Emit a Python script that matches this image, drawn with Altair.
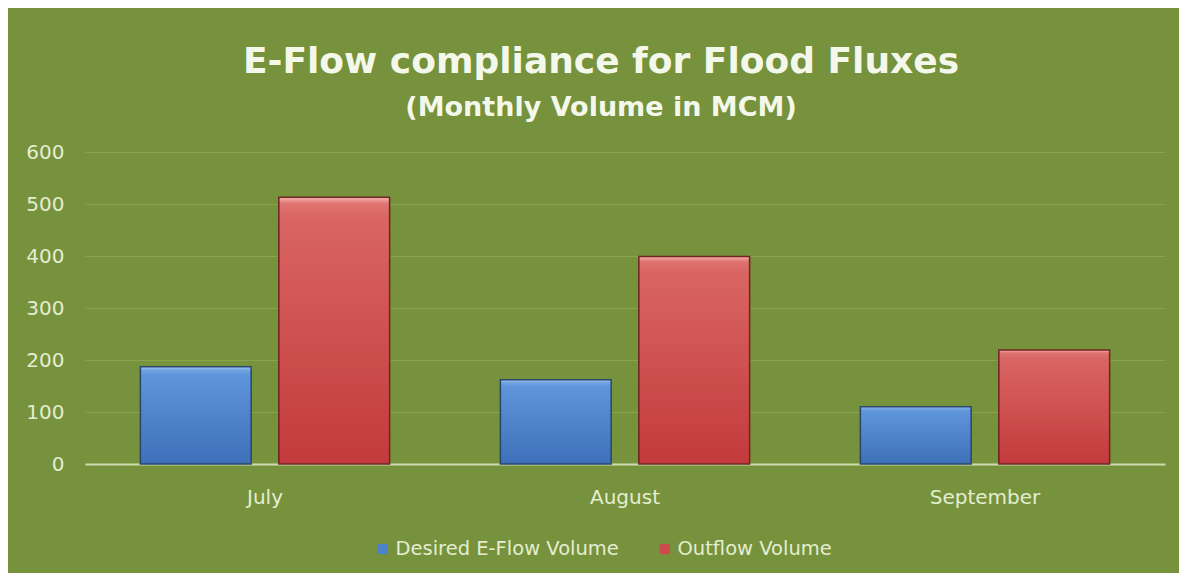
import altair as alt
import pandas as pd

months = ["July", "August", "September"]
series_names = ["Desired E-Flow Volume", "Outflow Volume"]
desired = [187, 162, 110]
outflow = [513, 399, 219]

rows = []
for m, d, o in zip(months, desired, outflow):
    rows.append({"month": m, "series": series_names[0], "value": d})
    rows.append({"month": m, "series": series_names[1], "value": o})
df = pd.DataFrame(rows)

BG = "#76923c"
TXT = "#e4edd2"

x_enc = alt.X("month:N", sort=months, title=None,
              scale=alt.Scale(paddingInner=0, paddingOuter=0),
              axis=alt.Axis(labelAngle=0, labelFont="DejaVu Sans", labelFontSize=20,
                            labelColor=TXT, labelPadding=23, ticks=False,
                            domainColor="#cfdcb0", domainWidth=2, grid=False))
xo_enc = alt.XOffset("series:N", sort=series_names,
                     scale=alt.Scale(paddingInner=0.2, paddingOuter=0.4))
y_enc = alt.Y("value:Q", title=None,
              scale=alt.Scale(domain=[0, 600], nice=False),
              axis=alt.Axis(values=[0, 100, 200, 300, 400, 500, 600],
                            labelFont="DejaVu Sans", labelFontSize=20, labelColor=TXT,
                            labelPadding=21, ticks=False, domain=False,
                            grid=True, gridColor="#88a44e", gridWidth=1))

base = alt.Chart(df).encode(x=x_enc, xOffset=xo_enc, y=y_enc)

legend_layer = base.mark_bar().encode(
    color=alt.Color("series:N", sort=series_names, title=None,
                    scale=alt.Scale(domain=series_names, range=["#4a82cc", "#cc4a4a"]),
                    legend=alt.Legend(orient="none", direction="horizontal",
                                      legendX=288, legendY=387, padding=0,
                                      symbolType="square", symbolSize=100,
                                      symbolStrokeWidth=0, labelLimit=500,
                                      labelFont="DejaVu Sans", labelFontSize=19.5,
                                      labelColor=TXT, labelOffset=3,
                                      columnPadding=36))
)

blue_grad = alt.Gradient(gradient="linear", x1=0, x2=0, y1=0, y2=1, stops=[
    alt.GradientStop(offset=0, color="#bcd8f6"),
    alt.GradientStop(offset=0.025, color="#78a8e4"),
    alt.GradientStop(offset=0.08, color="#5f95db"),
    alt.GradientStop(offset=1, color="#3d70b8"),
])
red_grad = alt.Gradient(gradient="linear", x1=0, x2=0, y1=0, y2=1, stops=[
    alt.GradientStop(offset=0, color="#f6b2ae"),
    alt.GradientStop(offset=0.025, color="#de7370"),
    alt.GradientStop(offset=0.08, color="#d96562"),
    alt.GradientStop(offset=1, color="#c33a3c"),
])

blue_layer = base.mark_bar(fill=blue_grad, stroke="#27476f", strokeWidth=1.5).transform_filter(
    alt.datum.series == series_names[0])
red_layer = base.mark_bar(fill=red_grad, stroke="#6e2420", strokeWidth=1.5).transform_filter(
    alt.datum.series == series_names[1])

chart = alt.layer(legend_layer, blue_layer, red_layer).properties(
    width=1080, height=312,
    autosize=alt.AutoSizeParams(type="none"),
    padding={"left": 77, "top": 144, "right": 14, "bottom": 109},
    title=alt.TitleParams(
        text="E-Flow compliance for Flood Fluxes",
        subtitle="(Monthly Volume in MCM)",
        font="DejaVu Sans", fontSize=36, fontWeight="bold", color="#f4f8ea",
        subtitleFont="DejaVu Sans", subtitleFontSize=27, subtitleFontWeight="bold",
        subtitleColor="#f4f8ea", subtitlePadding=14,
        anchor="middle", frame="group", dx=-24, offset=20,
    ),
).configure(background=BG).configure_view(stroke=None)

chart.save("out.html", embed_options={"renderer": "svg", "actions": False})
